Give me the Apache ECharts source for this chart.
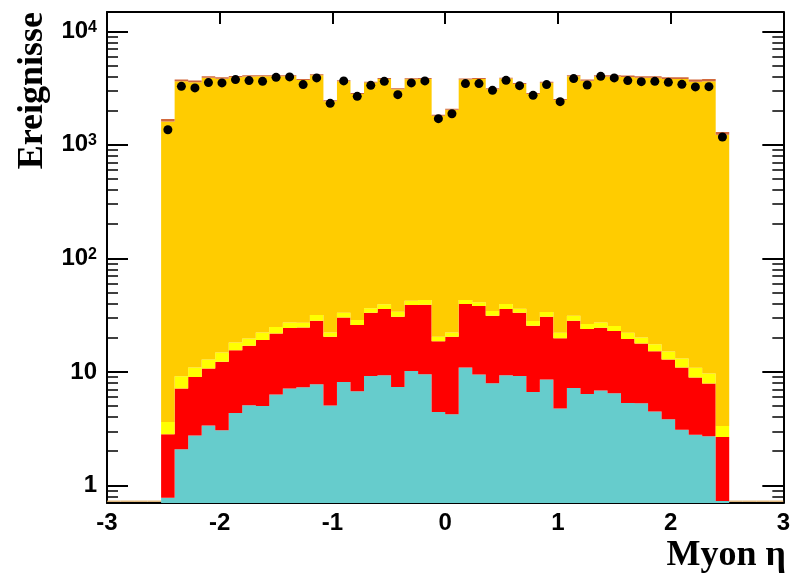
<!DOCTYPE html>
<html><head><meta charset="utf-8">
<script src="https://cdn.jsdelivr.net/npm/echarts@6/dist/echarts.min.js"></script>
<style>html,body{margin:0;padding:0;background:#fff}#c{width:793px;height:580px}</style>
</head><body><div id="c"></div>
<script>
// ---- data ----
const binCenters = [-2.46,-2.34,-2.22,-2.10,-1.98,-1.86,-1.74,-1.62,-1.50,-1.38,-1.26,-1.14,-1.02,-0.90,-0.78,-0.66,-0.54,-0.42,-0.30,-0.18,-0.06,
                     0.06, 0.18, 0.30, 0.42, 0.54, 0.66, 0.78, 0.90, 1.02, 1.14, 1.26, 1.38, 1.50, 1.62, 1.74, 1.86, 1.98, 2.10, 2.22, 2.34, 2.46];
const emptyBinCenters = [-2.94,-2.82,-2.70,-2.58, 2.58, 2.70, 2.82, 2.94];
const binWidth = 0.12;
const dataCounts = [1359,3277,3172,3533,3512,3755,3680,3627,3935,3967,3393,3887,2320,3657,2675,3345,3627,2768,3512,3657,1700,
                    1880,3462,3462,3021,3702,3324,2729,3393,2402,3832,3370,4015,3887,3680,3605,3627,3555,3413,3238,3257,1172];
const cyanVals   = [0.78,2.08,2.75,3.37,3.06,4.35,5.08,5.01,6.32,7.14,7.33,7.79,5.05,8.16,6.75,9.22,9.35,7.37,10.2,9.54,4.44,
                    4.23,10.94,9.49,7.95,9.35,9.22,6.66,8.57,4.75,7.22,6.39,6.85,6.49,5.33,5.29,4.47,3.82,3.10,2.80,2.71,0.73];
const redVals    = [2.04,5.06,6.28,7.35,9.20,11.19,11.88,14.04,15.51,17.16,17.32,20.40,15.32,22.05,19.09,23.95,26.41,23.21,28.60,29.50,14.22,
                    16.14,28.66,28.53,23.27,26.41,23.95,18.81,22.01,15.08,20.97,17.43,17.60,16.38,14.11,12.52,10.76,9.05,7.84,6.12,5.19,1.94];
const yellowVals = [0.80,2.03,1.91,2.15,2.58,2.64,2.75,3.22,2.98,2.99,2.42,3.46,1.90,2.96,2.76,3.10,3.59,3.27,3.53,3.90,1.71,
                    1.90,3.34,2.96,3.11,3.84,2.81,2.56,3.06,2.26,3.03,2.54,2.84,2.45,2.65,2.31,2.33,2.27,2.19,1.93,1.78,0.67];
const orangeVals = [1601,3615,3540,3882,3802,3929,3976,3994,3991,3989,3705,4066,2394,3595,2780,3497,3770,3050,3736,3766,1787,
                    2019,3712,3768,3050,3792,3406,2781,3499,2464,3985,3635,3969,3971,3930,3875,3877,3782,3784,3594,3627,1223];
const brownVals  = [85,131,129,120,118,101,102,82,82,82,76,84,49,74,57,72,78,63,77,78,37,
                    42,77,78,63,78,70,57,72,51,82,94,102,102,122,120,120,138,138,150,171,71];
const yTickLabels = {1:'1', 10:'10', 100:'10{s|2}', 1000:'10{s|3}', 10000:'10{s|4}'};

// ---- chart ----
const Y_MIN = 0.7, Y_MAX = 14800;
const layers = [
  {name:'cyan',   vals:cyanVals,   color:'#66cccc'},
  {name:'red',    vals:redVals,    color:'#ff0000'},
  {name:'yellow', vals:yellowVals, color:'#ffff00'},
  {name:'orange', vals:orangeVals, color:'#ffcc00'},
  {name:'brown',  vals:brownVals,  color:'#d2693c'}
];
let lowerArr = binCenters.map(()=>Y_MIN);
let running = binCenters.map(()=>0);
const series = [];
layers.forEach((L)=>{
  const lower = lowerArr.slice();
  running = running.map((r,i)=>r + L.vals[i]);
  const upper = running.slice();
  lowerArr = upper;
  series.push({
    name:L.name, type:'custom', silent:true, clip:true, z:2,
    data:[[binCenters[0], upper[0]]],
    renderItem:function(params, api){
      const top = [], bot = [];
      for (let i=0;i<binCenters.length;i++){
        const x0 = binCenters[i]-binWidth/2, x1 = binCenters[i]+binWidth/2;
        top.push(api.coord([x0, upper[i]]), api.coord([x1, upper[i]]));
        bot.push(api.coord([x0, lower[i]]), api.coord([x1, lower[i]]));
      }
      return {type:'polygon', shape:{points:top.concat(bot.reverse())}, style:{fill:L.color}};
    }
  });
});
// thin outline of the empty bins, resting on the bottom of the frame
series.push({
  name:'empty', type:'custom', silent:true, clip:false, z:3,
  data: emptyBinCenters.map(c=>[c, Y_MIN]),
  renderItem:function(params, api){
    const a = api.coord([api.value(0)-binWidth/2, api.value(1)]);
    const b = api.coord([api.value(0)+binWidth/2, api.value(1)]);
    return {type:'line', shape:{x1:a[0], y1:a[1]-1.8, x2:b[0], y2:b[1]-1.8}, style:{stroke:'#d6a45c', lineWidth:1.2}};
  }
});
series.push({
  name:'data', type:'scatter', symbol:'circle', symbolSize:9,
  itemStyle:{color:'#000', opacity:1}, z:5,
  data: binCenters.map((c,i)=>[c, dataCounts[i]])
});

const axisFont = {fontFamily:'Liberation Sans', fontWeight:'bold', fontSize:24, color:'#000'};
const chart = echarts.init(document.getElementById('c'), null, {renderer:'canvas'});
chart.setOption({
  animation:false,
  grid:{left:107, right:9, top:12, bottom:77},
  xAxis:[
    {type:'value', min:-3, max:3, interval:1, position:'bottom',
     axisLine:{show:true, onZero:false, lineStyle:{color:'#000', width:2}},
     axisTick:{show:true, inside:true, length:12, lineStyle:{color:'#000', width:2}},
     axisLabel:Object.assign({margin:8, formatter:v=>String(v)}, axisFont),
     splitLine:{show:false}},
    {type:'value', min:-3, max:3, interval:1, position:'top',
     axisLine:{show:true, onZero:false, lineStyle:{color:'#000', width:2}},
     axisTick:{show:true, inside:true, length:12, lineStyle:{color:'#000', width:2}},
     axisLabel:{show:false}, splitLine:{show:false}}
  ],
  yAxis:[
    {type:'log', logBase:10, min:Y_MIN, max:Y_MAX, position:'left',
     axisLine:{show:true, onZero:false, lineStyle:{color:'#000', width:2}},
     axisTick:{show:true, inside:true, length:21, lineStyle:{color:'#000', width:2}},
     minorTick:{show:true, splitNumber:9, length:11, lineStyle:{color:'#000', width:1.5}},
     axisLabel:Object.assign({margin:10, formatter:v=>yTickLabels[Math.round(v)] || '',
        rich:{s:{fontFamily:'Liberation Sans', fontWeight:'bold', fontSize:16, verticalAlign:'top', color:'#000'}}}, axisFont),
     splitLine:{show:false}},
    {type:'log', logBase:10, min:Y_MIN, max:Y_MAX, position:'right',
     axisLine:{show:true, onZero:false, lineStyle:{color:'#000', width:2}},
     axisTick:{show:true, inside:true, length:21, lineStyle:{color:'#000', width:2}},
     minorTick:{show:true, splitNumber:9, length:11, lineStyle:{color:'#000', width:1.5}},
     axisLabel:{show:false}, splitLine:{show:false}}
  ],
  graphic:[
    {type:'text', x:33, y:12, rotation:Math.PI/2, z:10,
     style:{text:'Ereignisse', font:'bold 36px "Liberation Serif"', fill:'#000', align:'right', verticalAlign:'middle'}},
    {type:'text', x:786, y:556, z:10,
     style:{text:'Myon η', font:'bold 36px "Liberation Serif"', fill:'#000', align:'right', verticalAlign:'middle'}}
  ],
  series: series
});
</script>
</body></html>
